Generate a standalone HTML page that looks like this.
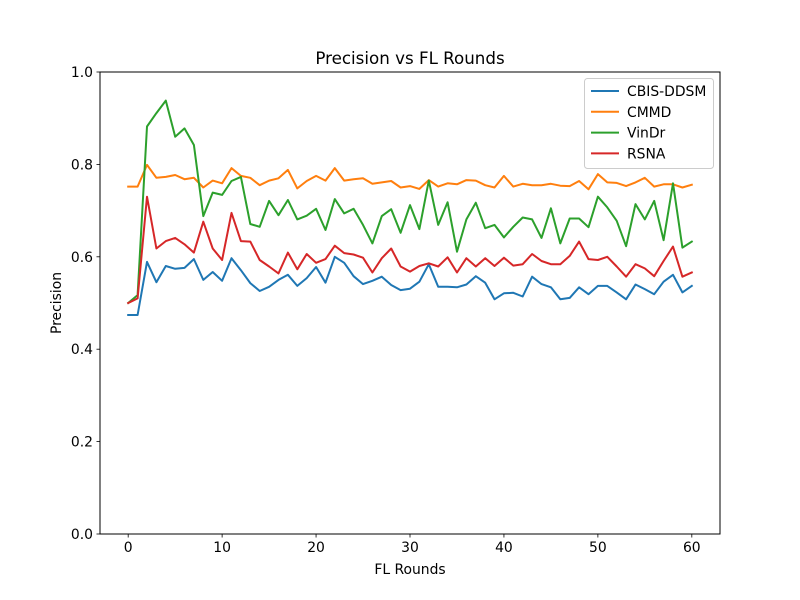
<!DOCTYPE html>
<html><head><meta charset="utf-8"><style>
body{margin:0;background:#fff;}
svg{display:block;font-family:"DejaVu Sans","Liberation Sans",sans-serif;}
</style></head><body>
<svg id="chart" width="800" height="600" xmlns="http://www.w3.org/2000/svg">
<rect width="800" height="600" fill="#fff"/>
<text x="410" y="64" text-anchor="middle" font-size="16.7">Precision vs FL Rounds</text>
<text x="410" y="574" text-anchor="middle" font-size="13.9">FL Rounds</text>
<text transform="translate(61,303) rotate(-90)" text-anchor="middle" font-size="13.9">Precision</text>
<g id="ticks"></g>
<g id="lines"></g>
<rect x="100" y="72" width="620" height="462" fill="none" stroke="#000" stroke-width="1"/>
<g id="legend"></g>
</svg>
<script>
const xTicks=[0,10,20,30,40,50,60];
const yTicks=[0.0,0.2,0.4,0.6,0.8,1.0];
const seriesNames=["CBIS-DDSM","CMMD","VinDr","RSNA"];
const seriesColors=["#1f77b4","#ff7f0e","#2ca02c","#d62728"];
const cbis=[0.474,0.474,0.589,0.545,0.580,0.574,0.576,0.595,0.550,0.567,0.548,0.597,0.571,0.543,0.526,0.535,0.550,0.561,0.537,0.554,0.578,0.544,0.600,0.587,0.558,0.541,0.548,0.557,0.539,0.528,0.531,0.546,0.584,0.535,0.535,0.534,0.540,0.558,0.544,0.508,0.521,0.522,0.514,0.557,0.541,0.534,0.508,0.511,0.534,0.519,0.537,0.537,0.523,0.508,0.540,0.530,0.519,0.546,0.561,0.523,0.537];
const cmmd=[0.752,0.752,0.799,0.771,0.773,0.777,0.768,0.771,0.750,0.765,0.759,0.792,0.775,0.771,0.755,0.765,0.770,0.788,0.748,0.764,0.775,0.765,0.792,0.765,0.768,0.770,0.758,0.761,0.764,0.750,0.753,0.747,0.766,0.752,0.759,0.757,0.766,0.765,0.755,0.750,0.775,0.752,0.758,0.755,0.755,0.758,0.754,0.753,0.764,0.746,0.779,0.761,0.760,0.753,0.761,0.771,0.752,0.757,0.757,0.750,0.756];
const vindr=[0.500,0.517,0.882,0.911,0.938,0.860,0.878,0.842,0.688,0.739,0.734,0.764,0.773,0.671,0.665,0.721,0.690,0.723,0.681,0.689,0.704,0.658,0.725,0.694,0.704,0.669,0.629,0.688,0.703,0.652,0.712,0.660,0.765,0.669,0.718,0.611,0.681,0.717,0.662,0.669,0.642,0.665,0.685,0.681,0.641,0.705,0.629,0.683,0.683,0.664,0.730,0.707,0.678,0.623,0.714,0.681,0.721,0.636,0.759,0.620,0.633];
const rsna=[0.500,0.510,0.730,0.618,0.634,0.641,0.627,0.609,0.676,0.618,0.593,0.695,0.634,0.633,0.593,0.579,0.564,0.609,0.573,0.606,0.587,0.595,0.624,0.608,0.605,0.598,0.566,0.597,0.618,0.579,0.568,0.580,0.586,0.579,0.599,0.566,0.597,0.579,0.597,0.580,0.598,0.581,0.584,0.606,0.591,0.584,0.584,0.602,0.633,0.595,0.593,0.600,0.579,0.557,0.584,0.575,0.558,0.591,0.622,0.557,0.566];
const allSeries=[cbis,cmmd,vindr,rsna];
const NS="http://www.w3.org/2000/svg";
function xs(v){return 100+(v+3)/66*620;}
function ys(v){return 534-v*462;}
function mk(tag,attrs,parent){const e=document.createElementNS(NS,tag);for(const k in attrs)e.setAttribute(k,attrs[k]);parent.appendChild(e);return e;}
const tg=document.getElementById('ticks');
xTicks.forEach(t=>{
  const l=mk('line',{x1:xs(t),x2:xs(t),y1:534,y2:537.5,stroke:'#000','stroke-width':0.8},tg);
  
  
  const tx=mk('text',{x:xs(t),y:552,'text-anchor':'middle','font-size':13.9},tg);
  
  
  tx.textContent=t;
});
yTicks.forEach(t=>{
  const l=mk('line',{x1:96.5,x2:100,y1:ys(t),y2:ys(t),stroke:'#000','stroke-width':0.8},tg);
  
  
  const tx=mk('text',{x:93,y:ys(t)+5,'text-anchor':'end','font-size':13.9},tg);
  
  
  tx.textContent=t.toFixed(1);
});
const lg=document.getElementById('lines');
allSeries.forEach((s,k)=>{
  const p=mk('polyline',{points:s.map((v,i)=>xs(i).toFixed(1)+','+ys(v).toFixed(1)).join(' '),fill:'none',stroke:seriesColors[k],'stroke-width':2,'stroke-linejoin':'round','stroke-linecap':'square'},lg);
  
  
});
const leg=document.getElementById('legend');
mk('rect',{x:584.5,y:78.5,width:129,height:90,rx:3,fill:'#fff','fill-opacity':0.8,stroke:'#ccc'},leg);
seriesNames.forEach((n,k)=>{
  const y=91+k*20.8;
  const l=mk('line',{x1:591,x2:619,y1:y,y2:y,stroke:seriesColors[k],'stroke-width':2},leg);
  
  
  const t=mk('text',{x:627,y:y+5,'font-size':13.9},leg);
  
  
  t.textContent=n;
});
</script>
</body></html>
